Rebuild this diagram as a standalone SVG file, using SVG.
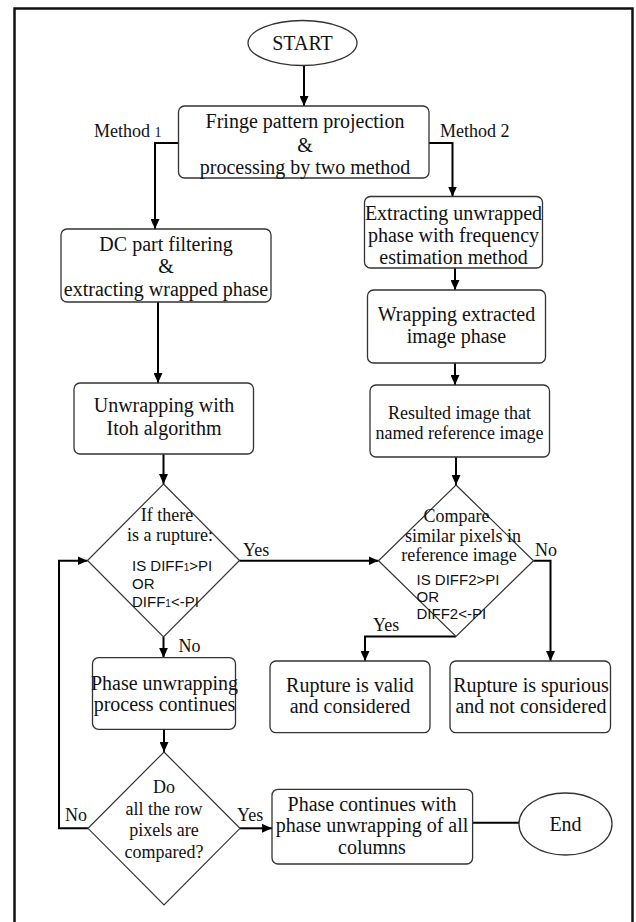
<svg xmlns="http://www.w3.org/2000/svg" width="636" height="922" viewBox="0 0 636 922">
<defs>
<marker id="ah" markerUnits="userSpaceOnUse" markerWidth="10" markerHeight="9" refX="10" refY="4.5" orient="auto">
<path d="M0,0 L10,4.5 L0,9 z" fill="#000"/>
</marker>
<style>
.box{fill:#fff;stroke:#333;stroke-width:1.3}
.t{font-family:"Liberation Serif","Times New Roman",serif;font-size:20px;fill:#111;text-anchor:middle}
.s{font-size:18px}
.d{font-size:18px}
.lab{font-family:"Liberation Serif","Times New Roman",serif;font-size:18px;fill:#111}
.sans{font-family:"Liberation Sans",Arial,sans-serif;font-size:15px;fill:#111}
.c{fill:none;stroke:#000;stroke-width:2}
.ca{fill:none;stroke:#000;stroke-width:2;marker-end:url(#ah)}
</style>
</defs>
<rect x="0" y="0" width="636" height="922" fill="#fff"/>
<rect x="14.5" y="8.5" width="618" height="930" fill="none" stroke="#111" stroke-width="2.5"/>

<g id="connectors">
<path class="ca" d="M304,65.5 V106"/>
<path class="ca" d="M178.5,143 H155 V229"/>
<path class="ca" d="M429,143 H452.5 V196.5"/>
<path class="ca" d="M455,268 V290"/>
<path class="ca" d="M455,363 V385"/>
<path class="ca" d="M158,302 V383"/>
<path class="ca" d="M163.5,454 V484"/>
<path class="ca" d="M456,457 V485"/>
<path class="ca" d="M239.5,560.7 H378.5"/>
<path class="ca" d="M533.5,560.7 H550.5 V661"/>
<path class="ca" d="M456,636.5 H365 V661"/>
<path class="ca" d="M163.5,637 V657.7"/>
<path class="ca" d="M164,729.3 V752"/>
<path class="ca" d="M88,828.3 H59 V560.7 H87.5"/>
<path class="ca" d="M240,828.3 H272"/>
<path class="c" d="M472.6,822.7 H519"/>
</g>

<g id="start">
<ellipse cx="302.5" cy="43" rx="54.5" ry="22.5" fill="#fff" stroke="#333" stroke-width="1.3"/>
<text class="t" x="302.5" y="50" font-size="21">START</text>
</g>

<g id="fringe">
<rect class="box" x="178.5" y="106" width="250.5" height="72" rx="6"/>
<text class="t" x="305" y="128">Fringe pattern projection</text>
<text class="t" x="305" y="152">&amp;</text>
<text class="t" x="305" y="174">processing by two method</text>
</g>

<g id="label-method1">
<text class="lab" x="94" y="137" font-size="19">Method <tspan font-size="14">1</tspan></text>
</g>
<g id="label-method2">
<text class="lab" x="440" y="137" font-size="19">Method 2</text>
</g>

<g id="extracting">
<rect class="box" x="364.5" y="196.5" width="178" height="71.5" rx="6"/>
<text class="t" x="453.5" y="219.5">Extracting unwrapped</text>
<text class="t" x="453.5" y="242">phase with frequency</text>
<text class="t" x="453.5" y="264">estimation method</text>
</g>

<g id="wrapping">
<rect class="box" x="367.5" y="290" width="178" height="73" rx="6"/>
<text class="t" x="456.5" y="321">Wrapping extracted</text>
<text class="t" x="456.5" y="343">image phase</text>
</g>

<g id="resulted">
<rect class="box" x="370" y="385" width="179.5" height="72" rx="6"/>
<text class="t s" x="459.5" y="419">Resulted image that</text>
<text class="t s" x="459.5" y="439">named reference image</text>
</g>

<g id="dc">
<rect class="box" x="61" y="229" width="210" height="73" rx="6"/>
<text class="t" x="166" y="251">DC part filtering</text>
<text class="t" x="166" y="273">&amp;</text>
<text class="t" x="166" y="295.5">extracting wrapped phase</text>
</g>

<g id="unwrapping">
<rect class="box" x="74" y="383" width="179.5" height="71" rx="6"/>
<text class="t" x="164" y="412">Unwrapping with</text>
<text class="t" x="164" y="435">Itoh algorithm</text>
</g>

<g id="decision1">
<polygon points="163.5,484 239.5,560.5 163.5,637 87.5,560.5" fill="#fff" stroke="#333" stroke-width="1.2"/>
<text class="t d" x="167" y="521">If there</text>
<text class="t d" x="170" y="541">is a rupture:</text>
<text class="sans" x="132" y="571">IS DIFF<tspan font-size="10">1</tspan>&gt;PI</text>
<text class="sans" x="132" y="589">OR</text>
<text class="sans" x="132" y="607">DIFF<tspan font-size="10">1</tspan>&lt;-PI</text>
</g>

<g id="decision2">
<polygon points="456,485 533.5,560.7 456,636.5 378.5,560.7" fill="#fff" stroke="#333" stroke-width="1.2"/>
<text class="t d" x="456.5" y="522">Compare</text>
<text class="t d" x="463" y="542">similar pixels in</text>
<text class="t d" x="459" y="561">reference image</text>
<text class="sans" x="416.5" y="585">IS DIFF2&gt;PI</text>
<text class="sans" x="416.5" y="602">OR</text>
<text class="sans" x="416.5" y="619">DIFF2&lt;-PI</text>
</g>

<g id="phase-unwrapping">
<rect class="box" x="92.5" y="657.7" width="143" height="71.6" rx="6"/>
<text class="t" x="164.5" y="689.5">Phase unwrapping</text>
<text class="t" x="164.5" y="711">process continues</text>
</g>

<g id="valid">
<rect class="box" x="270" y="661" width="160" height="71.7" rx="6"/>
<text class="t" x="350" y="692">Rupture is valid</text>
<text class="t" x="350" y="713">and considered</text>
</g>

<g id="spurious">
<rect class="box" x="450" y="661" width="160.5" height="71.7" rx="6"/>
<text class="t" x="531" y="692">Rupture is spurious</text>
<text class="t" x="531" y="713">and not considered</text>
</g>

<g id="decision3">
<polygon points="164,752 240,828.3 164,905 88,828.3" fill="#fff" stroke="#333" stroke-width="1.2"/>
<text class="t d" x="164" y="793">Do</text>
<text class="t d" x="164" y="814.5">all the row</text>
<text class="t d" x="164" y="836">pixels are</text>
<text class="t d" x="164" y="857.5">compared?</text>
</g>

<g id="final">
<rect class="box" x="272" y="789.3" width="200.6" height="74.7" rx="6"/>
<text class="t" x="372" y="811">Phase continues with</text>
<text class="t" x="372" y="832">phase unwrapping of all</text>
<text class="t" x="372" y="854">columns</text>
</g>

<g id="end">
<ellipse cx="565.5" cy="824" rx="46.5" ry="31" fill="#fff" stroke="#333" stroke-width="1.3"/>
<text class="t" x="565.5" y="831">End</text>
</g>

<g id="labels">
<text class="lab" x="243" y="556">Yes</text>
<text class="lab" x="535" y="556">No</text>
<text class="lab" x="373" y="631">Yes</text>
<text class="lab" x="178.5" y="652">No</text>
<text class="lab" x="65" y="821">No</text>
<text class="lab" x="237" y="821">Yes</text>
</g>
</svg>
